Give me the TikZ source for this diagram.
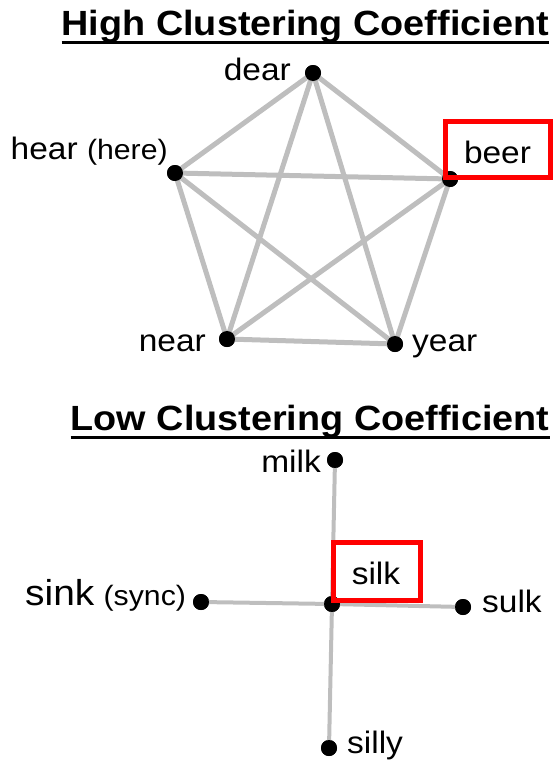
\documentclass[tikz,border=0pt]{standalone}
\usepackage{fontspec}
\setmainfont{Liberation Sans}[FakeStretch=1.08]
\begin{document}
\begin{tikzpicture}[x=1pt,y=-1pt,
  edgeA/.style={draw=edgegray,line width=5pt},
  edgeB/.style={draw=edgegray,line width=4pt},
  dot/.style={circle,fill=black,inner sep=0pt,minimum size=16pt},
  lbl/.style={inner sep=0pt,font=\fontsize{31}{36}\selectfont},
  ttl/.style={inner sep=0pt,font=\fontsize{35}{42}\selectfont\bfseries},
  hbox/.style={draw=red,line width=5pt}]
\definecolor{edgegray}{RGB}{190,190,190}
\useasboundingbox (0,0) rectangle (558,766);
% titles
\node[ttl,anchor=base west] (t1) at (61.5,35) {High Clustering Coefficient};
\draw[line width=3pt] ([yshift=-7pt]t1.base west) -- ([yshift=-7pt]t1.base east);
\node[ttl,anchor=base west] (t2) at (70.5,430) {Low Clustering Coefficient};
\draw[line width=3pt] ([yshift=-7pt]t2.base west) -- ([yshift=-7pt]t2.base east);
% top graph nodes
\node[dot] (dear) at (313,73) {};
\node[dot] (hear) at (175,173) {};
\node[dot] (beer) at (450,179) {};
\node[dot] (near) at (227,339) {};
\node[dot] (year) at (395,344) {};
\path[edgeA] (dear.center) -- (hear.center) (dear.center) -- (beer.center)
  (dear.center) -- (near.center) (dear.center) -- (year.center)
  (hear.center) -- (beer.center) (hear.center) -- (near.center)
  (hear.center) -- (year.center) (beer.center) -- (near.center)
  (beer.center) -- (year.center) (near.center) -- (year.center);
\foreach \n in {dear,hear,beer,near,year} \fill (\n) circle (8pt);
\node[lbl,anchor=base east] (ldear) at (291,80) {dear};
\node[lbl,anchor=base west] (lhear) at (10.5,159) {hear {\fontsize{28}{32}\selectfont(here)}};
\node[lbl,anchor=base east] (lnear) at (206,351) {near};
\node[lbl,anchor=base west] (lyear) at (412,351) {year};
\node[lbl,anchor=base] (lbeer) at (497.5,163) {beer};
\draw[hbox] (445.5,121.5) rectangle (550.5,177.5);
% bottom graph nodes
\node[dot] (silk) at (332,604) {};
\node[dot] (milk) at (335,460) {};
\node[dot] (sink) at (201,602) {};
\node[dot] (sulk) at (463,607) {};
\node[dot] (silly) at (329,748) {};
\path[edgeB] (silk.center) -- (milk.center) (silk.center) -- (sink.center)
  (silk.center) -- (sulk.center) (silk.center) -- (silly.center);
\foreach \n in {silk,milk,sink,sulk,silly} \fill (\n) circle (8pt);
\node[lbl,anchor=base east] (lmilk) at (321,472) {milk};
\node[lbl,anchor=base west] (lsink) at (25,605) {{\fontsize{36}{40}\selectfont sink} {\fontsize{28}{32}\selectfont(sync)}};
\node[lbl,anchor=base west] (lsulk) at (482,612) {sulk};
\node[lbl,anchor=base west] (lsilly) at (347,753) {silly};
\node[lbl,anchor=base] (lsilk) at (376,584) {silk};
\draw[hbox] (333.5,542.5) rectangle (420.5,600.5);
\end{tikzpicture}
\end{document}
